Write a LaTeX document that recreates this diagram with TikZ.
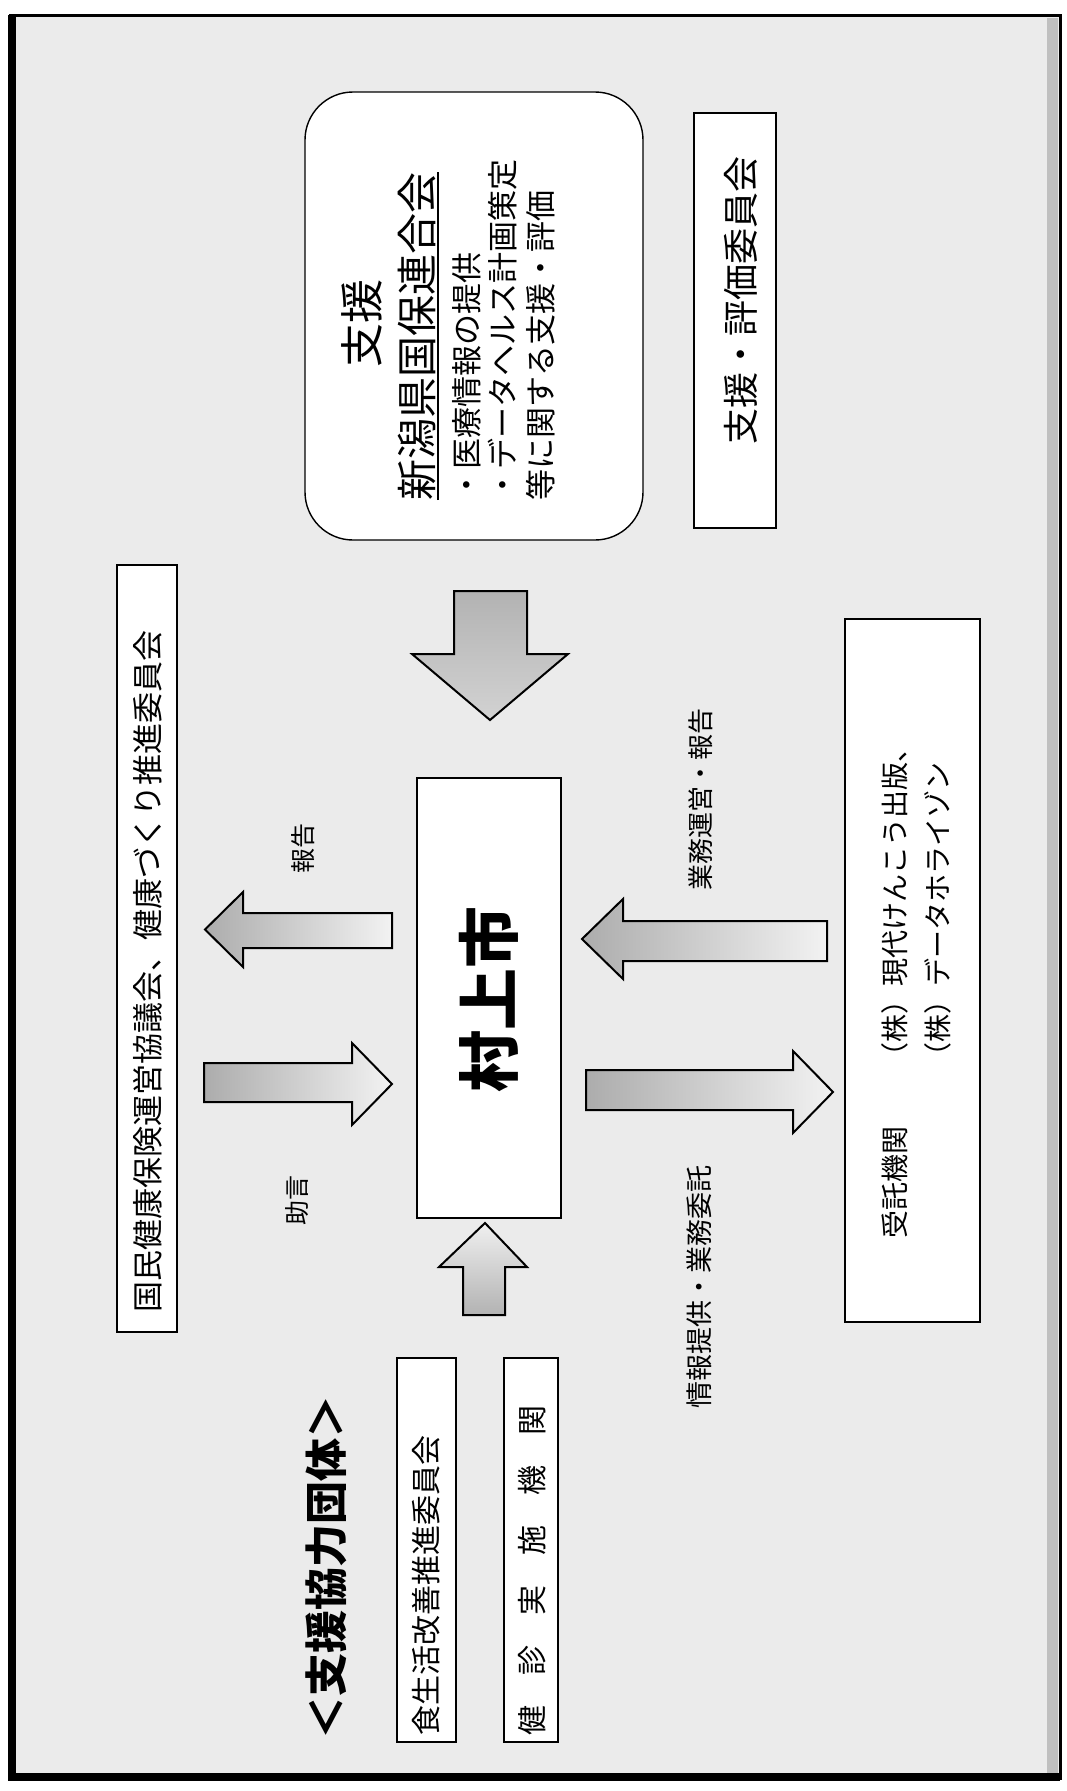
\documentclass[tikz,border=0pt]{standalone}
\usepackage{fontspec}
\setmainfont{Noto Sans CJK JP}
\newcommand\fsz[2]{\fontsize{#1}{#2}\selectfont}
\begin{document}
\begin{tikzpicture}[x=1pt,y=-1pt,
  box/.style={draw=black, line width=1.4pt, fill=white, inner sep=0pt, outer sep=0pt},
  vtext/.style={rotate=90, inner sep=0pt, outer sep=0pt},
  harrow/.style={draw=black, line width=2pt, line join=miter, left color=gray!65, right color=gray!10},
  downarrow/.style={draw=black, line width=2pt, line join=miter, top color=gray!60, bottom color=gray!35},
  uparrow/.style={draw=black, line width=2pt, line join=miter, bottom color=gray!60, top color=gray!12},
]
\useasboundingbox (0,0) rectangle (1066,1791);
\fill[white] (0,0) rectangle (1066,1791);
% page frame
\fill[gray!16] (10,15) rectangle (1060,1778);
\fill[gray!50] (1047,18) rectangle (1058,1775);
\draw[line width=3pt] (10,15) rectangle (1060,1778);
\draw[line width=8pt] (12,15) -- (12,1777) -- (1060,1777);

% boxes
\node[box, rounded corners=48pt, minimum width=338pt, minimum height=448pt] (shien) at (474,316) {};
\node[box, minimum width=82pt, minimum height=415pt] (hyoka) at (735,320.5) {};
\node[box, minimum width=60pt, minimum height=767pt] (kokuho) at (147,948.5) {};
\node[box, minimum width=144pt, minimum height=440pt] (mura) at (489,998) {};
\node[box, minimum width=135pt, minimum height=703pt] (jutaku) at (912.5,970.5) {};
\node[box, minimum width=59pt, minimum height=384pt] (shoku) at (426.5,1550) {};
\node[box, minimum width=54pt, minimum height=384pt] (kenshin) at (531,1550) {};

% texts in the rounded box
\node[vtext, font=\fsz{44}{50}] (shienT) at (362,323) {支援};
\node[vtext, anchor=west, font=\fsz{41}{48}] (rengo) at (417,500) {新潟県国保連合会};
\draw[line width=1.5pt] ([xshift=2pt]rengo.south west) -- ([xshift=2pt]rengo.south east);
\node[vtext, anchor=west, font=\fsz{31}{36}] (l1) at (467,500) {・医療情報の提供};
\node[vtext, anchor=west, font=\fsz{31}{36}] (l2) at (503,500) {・データヘルス計画策定};
\node[vtext, anchor=west, font=\fsz{31}{36}] (l3) at (541,500) {等に関する支援・評価};

\node[vtext, font=\fsz{36}{42}] (hyokaT) at (741,300) {支援・評価委員会};
\node[vtext, anchor=west, font=\fsz{31}{36}] (kokuhoT) at (148,1312) {国民健康保険運営協議会、健康づくり推進委員会};
\node[vtext, font=\fsz{62}{70}\bfseries] (muraT) at (489,999) {村上市};
\node[vtext, anchor=west, align=left, font=\fsz{28}{43}] (jutakuT) at (916.5,1238) {受託機関　　（株）現代けんこう出版、\\　　　　　　（株）データホライゾン};
\node[vtext, font=\fsz{43}{50}\bfseries] (title) at (326,1567) {＜支援協力団体＞};
\node[vtext, anchor=west, font=\fsz{30}{36}] (shokuT) at (426,1735) {食生活改善推進委員会};
\node[vtext, anchor=west, font=\fsz{30}{36}] (kenshinT) at (532,1735) {健　診　実　施　機　関};

% labels
\node[vtext, font=\fsz{25}{30}] (hokoku) at (303,848) {報告};
\node[vtext, font=\fsz{25}{30}] (jogen) at (297,1200) {助言};
\node[vtext, font=\fsz{26}{30}] (gyomu) at (701,799) {業務運営・報告};
\node[vtext, font=\fsz{27}{30}] (joho) at (699,1287) {情報提供・業務委託};

% block arrows
\draw[downarrow] (454,591) -- (527,591) -- (527,654) -- (568,654) -- (490,720) -- (412,654) -- (454,654) -- cycle;
\draw[harrow] (392,913) -- (392,948) -- (243,948) -- (243,967) -- (205,929.5) -- (243,892) -- (243,913) -- cycle;
\draw[harrow] (204,1063) -- (352,1063) -- (352,1043) -- (392,1084) -- (352,1125) -- (352,1102) -- (204,1102) -- cycle;
\draw[harrow] (827,921) -- (827,961) -- (623,961) -- (623,979) -- (582,939) -- (623,899) -- (623,921) -- cycle;
\draw[harrow] (586,1070) -- (793,1070) -- (793,1051) -- (833,1092) -- (793,1133) -- (793,1110) -- (586,1110) -- cycle;
\draw[uparrow] (463,1315) -- (463,1267) -- (439,1267) -- (485,1223) -- (527,1267) -- (505,1267) -- (505,1315) -- cycle;
\end{tikzpicture}
\end{document}
